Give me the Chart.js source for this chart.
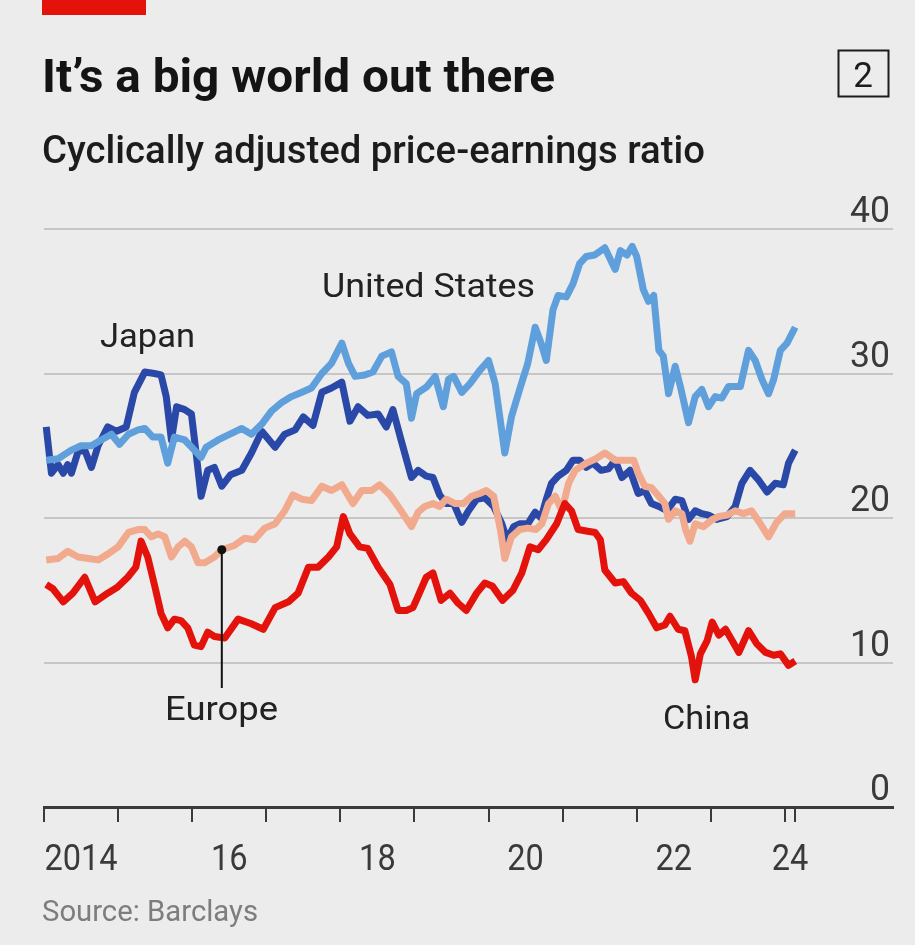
<!DOCTYPE html>
<html>
<head>
<meta charset="utf-8">
<title>It's a big world out there</title>
<script src="https://cdn.jsdelivr.net/npm/chart.js@4"></script>
<style>
  html, body { margin: 0; padding: 0; background: #ececec; }
  #wrap { position: relative; width: 915px; height: 945px; }
</style>
</head>
<body>
<div id="wrap"><canvas id="cape" width="915" height="945"></canvas></div>
<script>
// CAPE ratios, [year, value]
const japan = [
  [2014.03, 26.3], [2014.10, 23.1], [2014.19, 23.7], [2014.26, 23.1], [2014.32, 23.7], [2014.37, 23.1],
  [2014.46, 24.6], [2014.55, 24.7], [2014.64, 23.5], [2014.73, 25.0], [2014.86, 26.3], [2014.98, 26.0],
  [2015.11, 26.3], [2015.22, 28.7], [2015.36, 30.1], [2015.49, 30.0], [2015.58, 29.9], [2015.65, 28.4],
  [2015.72, 25.4], [2015.79, 27.7], [2015.90, 27.5], [2015.99, 27.2], [2016.06, 24.2], [2016.12, 21.5],
  [2016.21, 23.3], [2016.30, 23.5], [2016.40, 22.2], [2016.52, 23.0], [2016.67, 23.3], [2016.80, 24.5],
  [2016.94, 26.0], [2017.12, 24.9], [2017.25, 25.8], [2017.39, 26.1], [2017.50, 27.0], [2017.63, 26.4],
  [2017.75, 28.7], [2017.88, 29.0], [2018.02, 29.4], [2018.13, 26.7], [2018.24, 27.7], [2018.37, 27.1],
  [2018.51, 27.2], [2018.62, 26.3], [2018.71, 27.5], [2018.82, 25.4], [2018.96, 22.8], [2019.05, 23.3],
  [2019.16, 22.9], [2019.25, 22.8], [2019.34, 21.6], [2019.43, 21.0], [2019.53, 21.0], [2019.64, 19.7],
  [2019.73, 20.5], [2019.84, 21.3], [2019.95, 21.4], [2020.07, 20.8], [2020.18, 19.6], [2020.25, 18.5],
  [2020.34, 19.4], [2020.42, 19.6], [2020.53, 19.6], [2020.63, 20.4], [2020.71, 20.0], [2020.78, 21.3],
  [2020.85, 22.4], [2020.94, 22.9], [2021.05, 23.3], [2021.14, 24.0], [2021.23, 24.0], [2021.32, 23.5],
  [2021.41, 23.8], [2021.52, 23.3], [2021.62, 23.4], [2021.71, 24.0], [2021.80, 22.8], [2021.91, 23.3],
  [2022.02, 21.7], [2022.11, 21.9], [2022.20, 21.0], [2022.30, 20.8], [2022.41, 20.5], [2022.52, 21.3],
  [2022.61, 21.2], [2022.70, 19.9], [2022.79, 20.5], [2022.88, 20.3], [2022.97, 20.2], [2023.08, 19.9],
  [2023.22, 20.1], [2023.33, 20.8], [2023.42, 22.4], [2023.53, 23.3], [2023.65, 22.6], [2023.76, 21.8],
  [2023.87, 22.4], [2023.98, 22.3], [2024.05, 23.8], [2024.14, 24.7]
];

const unitedStates = [
  [2014.03, 24.0], [2014.19, 24.1], [2014.28, 24.4], [2014.37, 24.7], [2014.50, 25.0], [2014.64, 25.0],
  [2014.77, 25.4], [2014.91, 25.8], [2015.02, 25.1], [2015.14, 25.8], [2015.27, 26.1], [2015.36, 26.2],
  [2015.47, 25.6], [2015.58, 25.6], [2015.67, 23.8], [2015.76, 25.6], [2015.90, 25.4], [2016.03, 24.7],
  [2016.12, 24.2], [2016.19, 24.9], [2016.35, 25.4], [2016.51, 25.8], [2016.67, 26.2], [2016.80, 25.8],
  [2016.94, 26.5], [2017.07, 27.4], [2017.21, 28.0], [2017.34, 28.4], [2017.48, 28.7], [2017.61, 29.0],
  [2017.75, 30.0], [2017.88, 30.7], [2018.02, 32.1], [2018.11, 30.7], [2018.20, 29.8], [2018.33, 29.9],
  [2018.44, 30.1], [2018.56, 31.2], [2018.69, 31.5], [2018.78, 29.8], [2018.89, 29.3], [2018.96, 26.9],
  [2019.03, 28.6], [2019.17, 29.1], [2019.28, 29.8], [2019.39, 27.7], [2019.46, 29.6], [2019.53, 29.8],
  [2019.64, 28.7], [2019.75, 29.3], [2019.88, 30.2], [2020.00, 30.9], [2020.09, 29.3], [2020.22, 24.5],
  [2020.31, 27.0], [2020.42, 28.9], [2020.53, 30.7], [2020.63, 33.2], [2020.71, 32.1], [2020.78, 30.9],
  [2020.87, 34.4], [2020.94, 35.4], [2021.05, 35.3], [2021.14, 36.2], [2021.23, 37.6], [2021.32, 38.1],
  [2021.43, 38.2], [2021.57, 38.7], [2021.71, 37.2], [2021.78, 38.5], [2021.87, 38.2], [2021.94, 38.8],
  [2022.00, 38.1], [2022.09, 35.8], [2022.16, 35.0], [2022.23, 35.4], [2022.30, 31.6], [2022.36, 31.2],
  [2022.43, 28.6], [2022.52, 30.5], [2022.59, 29.1], [2022.70, 26.6], [2022.79, 28.4], [2022.88, 28.9],
  [2022.97, 27.7], [2023.06, 28.4], [2023.15, 28.3], [2023.24, 29.1], [2023.33, 29.1], [2023.40, 29.1],
  [2023.51, 31.6], [2023.60, 30.9], [2023.69, 29.6], [2023.78, 28.6], [2023.85, 29.6], [2023.94, 31.6],
  [2024.03, 32.1], [2024.14, 33.2]
];

const europe = [
  [2014.03, 17.1], [2014.19, 17.2], [2014.32, 17.7], [2014.46, 17.3], [2014.60, 17.2], [2014.73, 17.1],
  [2014.86, 17.5], [2015.00, 18.0], [2015.14, 19.0], [2015.27, 19.2], [2015.36, 19.2], [2015.45, 18.7],
  [2015.54, 18.9], [2015.63, 18.7], [2015.72, 17.3], [2015.81, 18.0], [2015.90, 18.4], [2015.99, 18.0],
  [2016.08, 16.9], [2016.17, 16.9], [2016.30, 17.3], [2016.40, 17.8], [2016.57, 18.1], [2016.71, 18.6],
  [2016.84, 18.5], [2016.98, 19.3], [2017.12, 19.6], [2017.25, 20.5], [2017.36, 21.6], [2017.48, 21.3],
  [2017.61, 21.2], [2017.75, 22.2], [2017.88, 21.9], [2018.02, 22.3], [2018.17, 21.0], [2018.29, 21.9],
  [2018.42, 21.9], [2018.53, 22.3], [2018.67, 21.6], [2018.78, 20.8], [2018.96, 19.4], [2019.05, 20.4],
  [2019.14, 20.8], [2019.25, 21.0], [2019.34, 20.8], [2019.43, 21.3], [2019.55, 21.0], [2019.66, 21.0],
  [2019.77, 21.5], [2019.88, 21.7], [2019.97, 21.9], [2020.07, 21.5], [2020.16, 19.2], [2020.22, 17.2],
  [2020.31, 18.7], [2020.42, 19.2], [2020.53, 19.3], [2020.64, 19.2], [2020.72, 19.6], [2020.81, 21.0],
  [2020.90, 21.5], [2020.99, 20.5], [2021.08, 22.4], [2021.17, 23.3], [2021.32, 23.8], [2021.45, 24.1],
  [2021.57, 24.5], [2021.71, 24.0], [2021.84, 24.0], [2021.96, 24.0], [2022.02, 23.1], [2022.11, 22.2],
  [2022.20, 22.1], [2022.30, 21.5], [2022.38, 21.0], [2022.43, 19.9], [2022.52, 20.5], [2022.61, 20.3],
  [2022.66, 19.2], [2022.72, 18.4], [2022.79, 19.6], [2022.90, 19.4], [2023.02, 19.9], [2023.11, 20.1],
  [2023.22, 20.2], [2023.33, 20.5], [2023.44, 20.3], [2023.55, 20.5], [2023.67, 19.6], [2023.78, 18.7],
  [2023.89, 19.7], [2024.00, 20.3], [2024.14, 20.3]
];

const china = [
  [2014.03, 15.4], [2014.12, 15.1], [2014.26, 14.2], [2014.39, 14.8], [2014.55, 15.9], [2014.69, 14.2],
  [2014.86, 14.8], [2014.99, 15.2], [2015.13, 15.9], [2015.24, 16.6], [2015.31, 18.4], [2015.40, 17.3],
  [2015.49, 15.4], [2015.58, 13.4], [2015.67, 12.4], [2015.76, 13.0], [2015.85, 12.9], [2015.94, 12.4],
  [2016.03, 11.2], [2016.12, 11.1], [2016.21, 12.1], [2016.30, 11.8], [2016.44, 11.7], [2016.62, 13.0],
  [2016.79, 12.7], [2016.96, 12.3], [2017.12, 13.8], [2017.30, 14.2], [2017.43, 14.8], [2017.57, 16.6],
  [2017.70, 16.6], [2017.84, 17.3], [2017.95, 18.0], [2018.04, 20.1], [2018.13, 18.9], [2018.26, 18.0],
  [2018.37, 17.9], [2018.51, 16.6], [2018.67, 15.4], [2018.78, 13.6], [2018.89, 13.6], [2018.98, 13.8],
  [2019.05, 14.6], [2019.16, 15.9], [2019.25, 16.2], [2019.36, 14.3], [2019.48, 14.8], [2019.59, 14.1],
  [2019.70, 13.6], [2019.84, 14.8], [2019.95, 15.5], [2020.05, 15.3], [2020.19, 14.3], [2020.33, 15.0],
  [2020.45, 16.2], [2020.56, 18.0], [2020.67, 17.8], [2020.78, 18.5], [2020.92, 19.6], [2021.03, 21.0],
  [2021.12, 20.5], [2021.21, 19.2], [2021.32, 19.1], [2021.44, 19.0], [2021.51, 18.5], [2021.57, 16.4],
  [2021.71, 15.5], [2021.82, 15.6], [2021.93, 14.8], [2022.05, 14.3], [2022.16, 13.4], [2022.27, 12.4],
  [2022.38, 12.6], [2022.45, 13.2], [2022.56, 12.3], [2022.65, 12.2], [2022.74, 10.4], [2022.79, 8.8],
  [2022.86, 10.6], [2022.95, 11.5], [2023.02, 12.8], [2023.11, 11.9], [2023.20, 12.3], [2023.29, 11.5],
  [2023.38, 10.7], [2023.51, 12.2], [2023.62, 11.3], [2023.74, 10.7], [2023.85, 10.5], [2023.94, 10.6],
  [2024.05, 9.8], [2024.14, 10.1]
];

// axes
const tickYears = [2014, 2015, 2016, 2017, 2018, 2019, 2020, 2021, 2022, 2023, 2024, 2024.14];
const yearLabels = ['2014', '16', '18', '20', '22', '24'];
const yearLabelAt = [2014.5, 2016.5, 2018.5, 2020.5, 2022.5, 2024.07];
const yTicks = [0, 10, 20, 30, 40];
const europeMark = 2016.40;

const FONT = 'Roboto, "Open Sans", sans-serif';
const RED = '#e3120b';

function pts(series) {
  return series.map(([x, y]) => ({ x, y }));
}

// draw text squeezed/stretched to a given width
function fitText(ctx, str, x, y, size, weight, color, width, align) {
  ctx.save();
  ctx.font = `${weight} ${size}px ${FONT}`;
  ctx.fillStyle = color;
  ctx.textBaseline = 'alphabetic';
  ctx.textAlign = align || 'left';
  const w = ctx.measureText(str).width;
  const sx = width ? width / w : 1;
  ctx.translate(x, y);
  ctx.scale(sx, 1);
  ctx.fillText(str, 0, 0);
  ctx.restore();
}

const decorations = {
  id: 'decorations',
  afterDraw(chart) {
    const ctx = chart.ctx;
    const xs = chart.scales.x;
    const ys = chart.scales.y;

    // header
    ctx.fillStyle = RED;
    ctx.fillRect(42, 0, 104, 15);
    fitText(ctx, 'It\u2019s a big world out there', 42, 92, 47, 700, '#141414', 513);
    fitText(ctx, 'Cyclically adjusted price-earnings ratio', 42, 163, 38, 500, '#1c1c1c', 663);

    ctx.strokeStyle = '#1c1c1c';
    ctx.lineWidth = 2;
    ctx.strokeRect(838.5, 50.5, 50, 46);
    fitText(ctx, '2', 863, 87, 35, 400, '#1c1c1c', 0, 'center');

    // value labels sit just above their gridlines
    yTicks.forEach(v => {
      const t = String(v);
      fitText(ctx, t, 890, ys.getPixelForValue(v) - 7, 37, 400, '#3a3a3a', t.length * 20, 'right');
    });

    yearLabels.forEach((t, i) => {
      fitText(ctx, t, xs.getPixelForValue(yearLabelAt[i]), 870, 36, 400, '#3a3a3a', t.length * 18.3, 'center');
    });

    fitText(ctx, 'Source: Barclays', 42, 921, 30, 400, '#7d7d7d', 216);

    // series names
    fitText(ctx, 'Japan', 100, 347, 34, 400, '#222', 95);
    fitText(ctx, 'United States', 322, 297, 33, 400, '#222', 213);
    fitText(ctx, 'Europe', 165, 720, 34, 400, '#222', 113);
    fitText(ctx, 'China', 663, 729, 34, 400, '#222', 87);

    // Europe pointer
    const hit = europe.find(p => p[0] === europeMark);
    const px = xs.getPixelForValue(hit[0]);
    const py = ys.getPixelForValue(hit[1]);
    ctx.strokeStyle = '#111';
    ctx.lineWidth = 2;
    ctx.beginPath();
    ctx.moveTo(px, py);
    ctx.lineTo(px, 688);
    ctx.stroke();
    ctx.fillStyle = '#111';
    ctx.beginPath();
    ctx.arc(px, py, 4.5, 0, Math.PI * 2);
    ctx.fill();
  }
};

new Chart(document.getElementById('cape'), {
  type: 'line',
  data: {
    datasets: [
      { label: 'China', data: pts(china), borderColor: RED },
      { label: 'Europe', data: pts(europe), borderColor: '#f2aa8e' },
      { label: 'United States', data: pts(unitedStates), borderColor: '#5f9fdc' },
      { label: 'Japan', data: pts(japan), borderColor: '#2a48a8' }
    ]
  },
  options: {
    responsive: false,
    animation: false,
    parsing: false,
    layout: { padding: { left: 44, right: 22, top: 229, bottom: 123 } },
    elements: {
      point: { radius: 0 },
      line: { borderWidth: 7, tension: 0, borderJoinStyle: 'round', fill: false }
    },
    datasets: { line: { clip: false } },
    plugins: { legend: { display: false }, tooltip: { enabled: false } },
    scales: {
      x: {
        type: 'linear',
        min: 2014,
        max: 2025.46,
        afterBuildTicks: axis => { axis.ticks = tickYears.map(v => ({ value: v })); },
        ticks: { display: false },
        grid: { drawOnChartArea: false, drawTicks: true, tickLength: 15, color: '#3a3a3a', lineWidth: 2 },
        border: { display: true, color: '#3a3a3a', width: 3 }
      },
      y: {
        min: 0,
        max: 40,
        ticks: { display: false, stepSize: 10 },
        grid: { color: '#c6c6c6', lineWidth: 2, drawTicks: false },
        border: { display: false }
      }
    }
  },
  plugins: [decorations]
});
</script>
</body>
</html>
